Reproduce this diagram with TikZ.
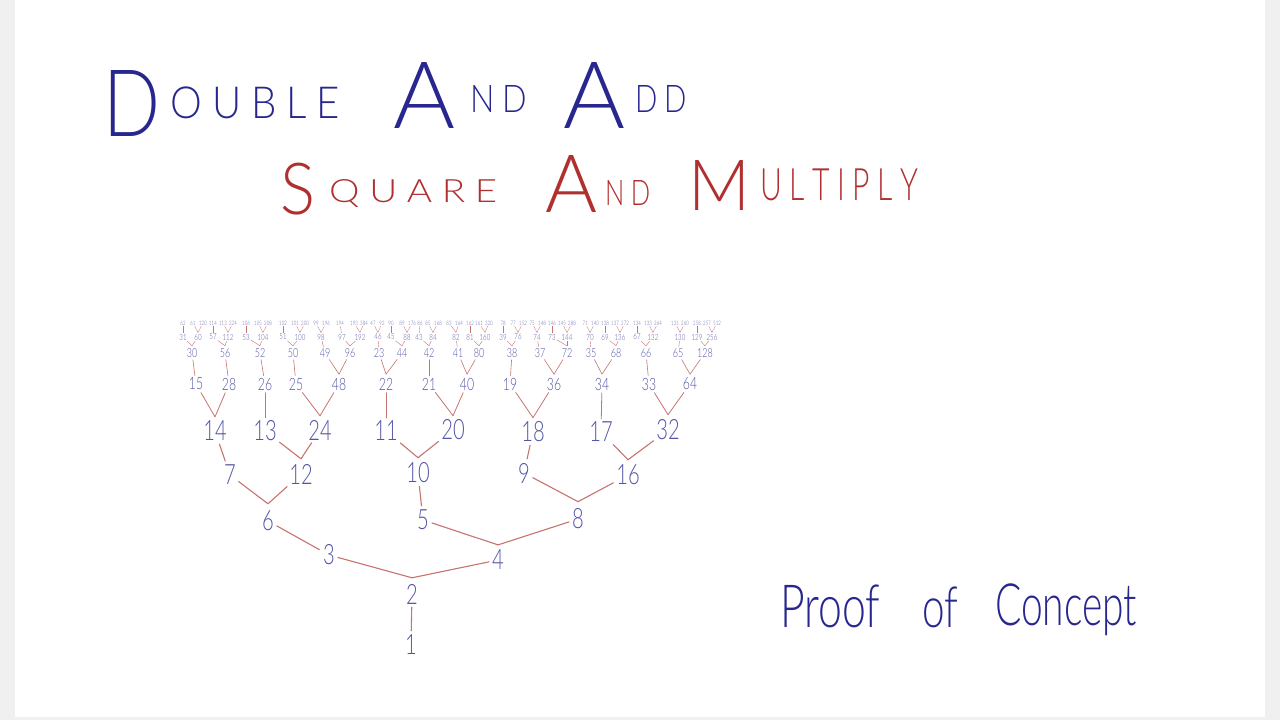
\documentclass[tikz,border=0pt]{standalone}
\usepackage{fontspec}
\setmainfont{Fira Sans}
\newfontfamily\hand{Lato Light}
\definecolor{tb}{HTML}{27278F}
\definecolor{tr}{HTML}{B0302F}
\definecolor{nb}{HTML}{5555A8}
\definecolor{er}{HTML}{C77370}
\definecolor{bgray}{HTML}{F0F0F0}
\newcommand\lsp{\kern0.25em}
\newcommand\nn[1]{\scalebox{0.72}[1]{#1}}
\begin{document}
\begin{tikzpicture}[x=1pt,y=-1pt,
  T/.style={inner sep=0pt, anchor=north west, font=\hand\fontsize{20}{22}\selectfont},
  num/.style={inner sep=1pt, text=nb},
  LA/.style={num, font=\hand\fontsize{28}{30}\selectfont},
  LB/.style={num, font=\hand\fontsize{17}{19}\selectfont},
  LC/.style={num, font=\hand\fontsize{12.5}{14}\selectfont},
  LD/.style={num, inner sep=0.5pt, font=\hand\fontsize{8.5}{10}\selectfont},
  LE/.style={num, inner sep=0.4pt, font=\hand\fontsize{6}{7}\selectfont},
  eA/.style={draw=er, line width=1.1pt, line cap=round, shorten <=2pt},
  sA/.style={eA, shorten >=3pt},
  eB/.style={draw=er, line width=0.8pt, line cap=round, shorten <=1.5pt},
  sB/.style={eB, shorten >=2pt},
  eC/.style={draw=er, line width=0.6pt, line cap=round, shorten <=1pt},
  sC/.style={eC, shorten >=1pt},
  eD/.style={draw=er, line width=0.4pt, line cap=round, shorten <=0.5pt},
  sD/.style={eD, shorten >=0.5pt}]
\useasboundingbox (0,0) rectangle (1280,720);
\fill[bgray] (0,0) rectangle (1280,720);
\fill[white] (15,0) rectangle (1265,717);

% ---- titles
\node[T,text=tb] (tD) at (103,70) {\resizebox*{57pt}{66pt}{D}};
\node[T,text=tb] (tOuble) at (170,87) {\resizebox*{170pt}{32pt}{O\lsp U\lsp B\lsp L\lsp E}};
\node[T,text=tb] (tA1) at (393,62) {\resizebox*{62pt}{66pt}{A}};
\node[T,text=tb] (tNd) at (470,85) {\resizebox*{57pt}{27pt}{N\lsp D}};
\node[T,text=tb] (tA2) at (563,62) {\resizebox*{62pt}{66pt}{A}};
\node[T,text=tb] (tDd) at (635,85) {\resizebox*{52pt}{27pt}{D\lsp D}};

\node[T,text=tr] (tS) at (280,163) {\resizebox*{35pt}{52pt}{S}};
\node[T,text=tr] (tQuare) at (329,179) {\resizebox*{168pt}{28pt}{Q\lsp U\lsp A\lsp R\lsp E}};
\node[T,text=tr] (tA3) at (545,155) {\resizebox*{52pt}{57pt}{A}};
\node[T,text=tr] (tNd2) at (605,180) {\resizebox*{45pt}{25pt}{N\lsp D}};
\node[T,text=tr] (tM) at (688,160) {\resizebox*{62pt}{50pt}{M}};
\node[T,text=tr] (tUltiply) at (760,169) {\resizebox*{158pt}{32pt}{U\lsp L\lsp T\lsp I\lsp P\lsp L\lsp Y}};

\node[T,text=tb] (tProof) at (780,585) {\resizebox*{100pt}{43pt}{Proof}};
\node[T,text=tb] (tOf) at (922,587) {\resizebox*{36pt}{41pt}{of}};
\node[T,text=tb] (tConcept) at (995,584) {\resizebox*{142pt}{52pt}{Concept}};

% ---- tree nodes
\node[LA] (n1) at (411,645) {\nn{1}};
\node[LA] (n2) at (412,594) {\nn{2}};
\foreach \v/\x/\y in {3/329/555, 4/498/560, 6/268/521, 5/423/520, 8/578/519,
  7/230/475, 12/301/474, 10/418/473, 9/524/473, 16/628/475,
  14/215/431, 13/265/431, 24/320/430, 11/386/431, 20/453/430, 18/533/432, 17/601/432, 32/668/430}
  \node[LA] (n\v) at (\x,\y) {\nn{\v}};
\foreach \v/\x in {15/196, 28/229, 26/265, 25/296, 48/339, 22/386, 21/429, 40/467, 19/510, 36/554, 34/602, 33/649, 64/690}
  \node[LB] (n\v) at (\x,384) {\nn{\v}};
\foreach \v/\x in {30/192, 56/225, 52/260, 50/293, 49/325, 96/350, 23/379, 44/402, 42/429, 41/458, 80/479, 38/512, 37/540, 72/567, 35/591, 68/616, 66/646, 65/678, 128/705}
  \node[LC] (n\v) at (\x,353) {\nn{\v}};
\foreach \v/\x in {31/183, 60/198, 57/213, 112/228, 53/246, 104/263, 51/283, 100/300, 98/321, 97/342, 192/360, 46/378, 45/391, 88/407, 43/419, 84/433, 82/456, 81/470, 160/485, 39/503, 76/518, 74/537, 73/552, 144/567, 70/590, 69/605, 136/620, 67/637, 132/653, 130/680, 129/697, 256/712}
  \node[LD] (n\v) at (\x,337) {\nn{\v}};
\foreach \v/\x in {62/183, 61/193, 120/203, 114/213, 113/223, 224/233, 106/246, 105/258, 208/268, 102/283, 101/295, 200/305, 99/316, 196/326, 194/340, 193/354, 384/364, 47/373, 92/382, 90/391, 89/402, 176/412, 86/420, 85/428, 168/438, 83/449, 164/459, 162/470, 161/479, 320/489, 78/503, 77/513, 152/523, 75/532, 148/542, 146/552, 145/562, 288/572, 71/585, 140/595, 138/605, 137/615, 272/625, 134/637, 133/648, 264/658, 131/675, 260/685, 258/697, 257/707, 512/717}
  \node[LE] (n\v) at (\x,323) {\nn{\v}};

% ---- joints above parents with two children
\foreach \p/\s in {2/5, 4/4, 6/6, 8/6, 12/4, 10/4, 16/4, 14/3, 24/3, 20/3, 18/3, 32/4}
  \coordinate (j\p) at ([yshift=\s pt]n\p.north);
\foreach \p in {48, 22, 40, 36, 34, 64}
  \coordinate (j\p) at ([yshift=2.5pt]n\p.north);
\foreach \p in {30, 56, 52, 50, 96, 44, 42, 80, 38, 72, 68, 66, 128}
  \coordinate (j\p) at ([yshift=1.5pt]n\p.north);
\foreach \p in {60, 112, 104, 100, 98, 192, 46, 88, 84, 82, 160, 76, 74, 144, 70, 136, 132, 130, 256}
  \coordinate (j\p) at ([yshift=0.8pt]n\p.north);

% ---- connectors
\draw[sA] (n2) -- (n1);
\draw[sA] (n6) -- (n3);
\draw[sA] (n10) -- (n5);
\draw[sA] (n14) -- (n7);
\draw[sA] (n18) -- (n9);
\foreach \c/\p in {3/2, 4/2, 5/4, 8/4, 7/6, 12/6, 9/8, 16/8, 13/12, 24/12, 11/10, 20/10, 17/16, 32/16}
  \draw[eA] (n\c) -- (j\p);
\foreach \c/\p in {15/14, 28/14, 25/24, 48/24, 21/20, 40/20, 19/18, 36/18, 33/32, 64/32}
  \draw[eB] (n\c) -- (j\p);
\foreach \c/\p in {26/13, 22/11, 34/17}
  \draw[sB] (n\c) -- (n\p);
\foreach \c/\p in {49/48, 96/48, 23/22, 44/22, 41/40, 80/40, 37/36, 72/36, 35/34, 68/34, 65/64, 128/64}
  \draw[eC] (n\c) -- (j\p);
\foreach \c/\p in {30/15, 56/28, 52/26, 50/25, 42/21, 38/19, 66/33}
  \draw[sC] (n\c) -- (n\p);
\foreach \c/\p in {31/30, 60/30, 57/56, 112/56, 53/52, 104/52, 51/50, 100/50, 97/96, 192/96, 45/44, 88/44, 43/42, 84/42, 81/80, 160/80, 39/38, 76/38, 73/72, 144/72, 69/68, 136/68, 67/66, 132/66, 129/128, 256/128}
  \draw[eD] (n\c) -- (j\p);
\foreach \c/\p in {98/49, 46/23, 82/41, 74/37, 70/35, 130/65}
  \draw[sD] (n\c) -- (n\p);
\foreach \c/\p in {61/60, 120/60, 113/112, 224/112, 105/104, 208/104, 101/100, 200/100, 99/98, 196/98, 193/192, 384/192, 47/46, 92/46, 89/88, 176/88, 85/84, 168/84, 83/82, 164/82, 161/160, 320/160, 77/76, 152/76, 75/74, 148/74, 145/144, 288/144, 71/70, 140/70, 137/136, 272/136, 133/132, 264/132, 131/130, 260/130, 257/256, 512/256}
  \draw[eD, line width=0.3pt] (n\c) -- (j\p);
\foreach \c/\p in {62/31, 114/57, 106/53, 102/51, 194/97, 90/45, 86/43, 162/81, 78/39, 146/73, 138/69, 134/67, 258/129}
  \draw[sD, line width=0.3pt] (n\c) -- (n\p);
\end{tikzpicture}
\end{document}
